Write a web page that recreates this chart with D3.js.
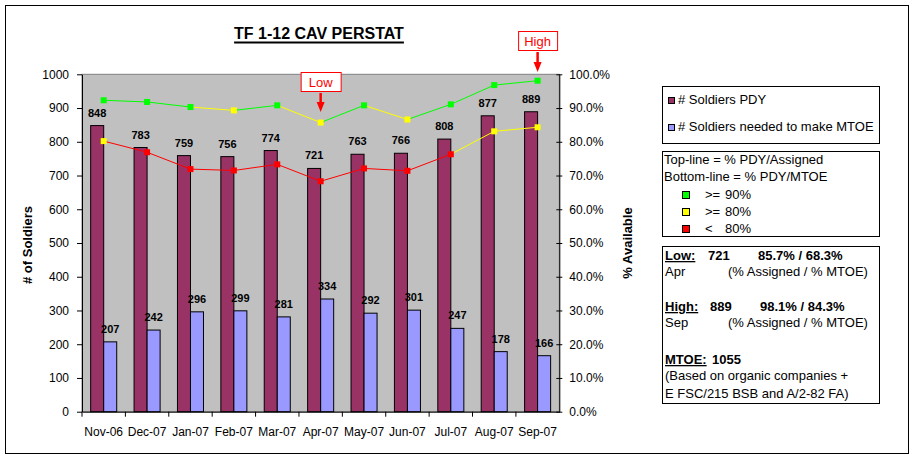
<!DOCTYPE html>
<html lang="en">
<head>
<meta charset="UTF-8">
<title>TF 1-12 CAV PERSTAT</title>
<script src="https://d3js.org/d3.v7.min.js"></script>
<style>
    body { margin: 0; background: #fff; }
    svg { display: block; font-family: Arial, "Liberation Sans", sans-serif; }
    .tick text { font-size: 12px; fill: #000; }
    .barlabel { font-size: 11px; font-weight: bold; text-anchor: middle; }
    .legend { font-size: 13px; }
</style>
</head>
<body>
<svg width="916" height="460"></svg>
<script>
// chart values
const months = ["Nov-06", "Dec-07", "Jan-07", "Feb-07", "Mar-07", "Apr-07", "May-07", "Jun-07", "Jul-07", "Aug-07", "Sep-07"];
const soldiersPdy = [848, 783, 759, 756, 774, 721, 763, 766, 808, 877, 889];
const soldiersNeeded = [207, 242, 296, 299, 281, 334, 292, 301, 247, 178, 166];
const pctAssigned = [92.3, 91.8, 90.3, 89.3, 90.8, 85.7, 90.8, 86.6, 91.1, 96.8, 98.1];   // top line
const pctMtoe = [80.2, 76.9, 71.9, 71.5, 73.3, 68.3, 72.1, 71.4, 76.3, 83.1, 84.3];       // bottom line
const leftTicks = d3.range(0, 1001, 100);
const rightTicks = d3.range(0, 101, 10);
const seriesNames = ["# Soldiers PDY", "# Soldiers needed to make MTOE"];
const bands = [{ label: ">=", value: "90%", min: 90 }, { label: ">=", value: "80%", min: 80 }, { label: "<", value: "80%", min: -Infinity }];

const barColors = ["#993366", "#9999ff"];
const bandColors = ["#00ff00", "#ffff00", "#ff0000"];
const colorFor = v => bandColors[bands.findIndex(b => v >= b.min)];

const svg = d3.select("svg");
const plot = { left: 82, right: 559.3, top: 74.3, bottom: 411.7 };

// outer chart border
svg.append("rect").attr("x", 5.5).attr("y", 5.5).attr("width", 903).attr("height", 448)
    .attr("fill", "#fff").attr("stroke", "#000");

const x = d3.scaleBand().domain(months).range([plot.left, plot.right]).paddingInner(0).paddingOuter(0);
const barW = x.bandwidth() * 0.3;
const y = d3.scaleLinear().domain([0, 1000]).range([plot.bottom, plot.top]);
const yPct = d3.scaleLinear().domain([0, 100]).range([plot.bottom, plot.top]);
const cx = m => x(m) + x.bandwidth() / 2;

// plot area
svg.append("rect").attr("x", plot.left).attr("y", plot.top)
    .attr("width", plot.right - plot.left).attr("height", plot.bottom - plot.top)
    .attr("fill", "#c0c0c0").attr("stroke", "#808080");

// bars
const barSeries = [soldiersPdy, soldiersNeeded];
barSeries.forEach((vals, s) => {
    const g = svg.append("g");
    g.selectAll("rect").data(months).join("rect")
        .attr("x", m => cx(m) - barW + s * barW)
        .attr("y", (m, i) => y(vals[i]))
        .attr("width", barW)
        .attr("height", (m, i) => plot.bottom - y(vals[i]))
        .attr("fill", barColors[s]).attr("stroke", "#000").attr("stroke-width", 1);
    g.selectAll("text").data(months).join("text")
        .attr("class", "barlabel")
        .attr("x", m => cx(m) - barW / 2 + s * barW)
        .attr("y", (m, i) => y(vals[i]) - 9)
        .text((m, i) => vals[i]);
});

// percentage lines: each segment takes the colour of the point it ends on
[pctAssigned, pctMtoe].forEach(vals => {
    const g = svg.append("g");
    g.selectAll("line").data(months.slice(1)).join("line")
        .attr("x1", (m, i) => cx(months[i])).attr("y1", (m, i) => yPct(vals[i]))
        .attr("x2", m => cx(m)).attr("y2", (m, i) => yPct(vals[i + 1]))
        .attr("stroke", (m, i) => colorFor(vals[i + 1])).attr("stroke-width", 1);
    g.selectAll("rect").data(months).join("rect")
        .attr("x", m => cx(m) - 3).attr("y", (m, i) => yPct(vals[i]) - 3)
        .attr("width", 6).attr("height", 6)
        .attr("fill", (m, i) => colorFor(vals[i]));
});

// axes
const gl = svg.append("g").attr("transform", `translate(${plot.left},0)`)
    .call(d3.axisLeft(y).tickValues(leftTicks).tickSize(5).tickPadding(8).tickSizeOuter(0)
        .tickFormat(d3.format("d")));
const gr = svg.append("g").attr("transform", `translate(${plot.right},0)`)
    .call(d3.axisRight(yPct).tickValues(rightTicks).tickSize(3).tickPadding(7).tickSizeOuter(0)
        .tickFormat(d => d.toFixed(1) + "%"));
gr.selectAll(".tick line").attr("x1", -3);
const gb = svg.append("g").attr("transform", `translate(0,${plot.bottom})`)
    .call(d3.axisBottom(x).tickSize(0).tickPadding(16).tickSizeOuter(0));
gb.selectAll(".tick text").attr("dy", "0.71em");
gb.selectAll("line.boundary").data(months).join("line")
    .attr("class", "boundary")
    .attr("x1", m => x(m)).attr("x2", m => x(m)).attr("y1", 0).attr("y2", 5)
    .attr("stroke", "#000");
[gl, gr, gb].forEach(g => {
    g.selectAll(".domain").attr("stroke", "#000");
    g.selectAll(".tick line").attr("stroke", "#000");
    g.attr("font-family", null).attr("font-size", null);
});

// axis titles
svg.append("text").attr("transform", "translate(32,245) rotate(-90)")
    .attr("text-anchor", "middle").attr("font-size", 13).attr("font-weight", "bold")
    .text("# of Soldiers");
svg.append("text").attr("transform", "translate(632,243) rotate(-90)")
    .attr("text-anchor", "middle").attr("font-size", 13).attr("font-weight", "bold")
    .text("% Available");

// title with underline
const title = svg.append("text").attr("x", 319).attr("y", 39)
    .attr("text-anchor", "middle").attr("font-size", 16).attr("font-weight", "bold")
    .text("TF 1-12 CAV PERSTAT");
const tw = title.node().getComputedTextLength();
svg.append("line").attr("x1", 319 - tw / 2).attr("x2", 319 + tw / 2)
    .attr("y1", 42.5).attr("y2", 42.5).attr("stroke", "#000").attr("stroke-width", 2);

// Low / High callouts
function callout(month, label, boxTop, boxW, arrowTip) {
    const mx = cx(month);
    svg.append("rect").attr("x", mx - boxW / 2 + 0.5).attr("y", boxTop + 0.5)
        .attr("width", boxW).attr("height", 19).attr("fill", "#fff").attr("stroke", "#ff0000");
    svg.append("text").attr("x", mx).attr("y", boxTop + 15)
        .attr("text-anchor", "middle").attr("font-size", 13).attr("fill", "#ff0000").text(label);
    svg.append("line").attr("x1", mx).attr("x2", mx).attr("y1", boxTop + 21).attr("y2", arrowTip - 8)
        .attr("stroke", "#ff0000").attr("stroke-width", 2.5);
    svg.append("path")
        .attr("d", `M${mx - 4},${arrowTip - 10}L${mx + 4},${arrowTip - 10}L${mx},${arrowTip}Z`)
        .attr("fill", "#ff0000");
}
const lowIdx = soldiersPdy.indexOf(d3.min(soldiersPdy));
const highIdx = soldiersPdy.indexOf(d3.max(soldiersPdy));
callout(months[lowIdx], "Low", 72, 40, 112);
callout(months[highIdx], "High", 31, 39, 72);

// legend 1: series
const lg1 = svg.append("g").attr("class", "legend");
lg1.append("rect").attr("x", 662.5).attr("y", 86.5).attr("width", 217).attr("height", 57)
    .attr("fill", "#fff").attr("stroke", "#000");
seriesNames.forEach((name, i) => {
    const yy = 104 + i * 27;
    lg1.append("rect").attr("x", 668.5).attr("y", yy - 6.5).attr("width", 6).attr("height", 6)
        .attr("fill", barColors[i]).attr("stroke", "#000");
    lg1.append("text").attr("x", 678).attr("y", yy).text(name);
});

// legend 2: line colour key
const lg2 = svg.append("g").attr("class", "legend");
lg2.append("rect").attr("x", 662.5).attr("y", 151.5).attr("width", 217).attr("height", 85)
    .attr("fill", "#fff").attr("stroke", "#000");
lg2.append("text").attr("x", 664).attr("y", 164).text("Top-line = % PDY/Assigned");
lg2.append("text").attr("x", 664).attr("y", 181).text("Bottom-line = % PDY/MTOE");
bands.forEach((b, i) => {
    const yy = 199 + i * 17;
    lg2.append("rect").attr("x", 682.5).attr("y", yy - 7.5).attr("width", 7).attr("height", 7)
        .attr("fill", bandColors[i]).attr("stroke", "#000");
    lg2.append("text").attr("x", 705).attr("y", yy).text(b.label);
    lg2.append("text").attr("x", 725).attr("y", yy).text(b.value);
});

// legend 3: low / high / MTOE notes
const lg3 = svg.append("g").attr("class", "legend");
lg3.append("rect").attr("x", 662.5).attr("y", 246.5).attr("width", 217).attr("height", 157)
    .attr("fill", "#fff").attr("stroke", "#000");
const note = (xx, yy, t, bold, underline) => lg3.append("text").attr("x", xx).attr("y", yy)
    .attr("font-weight", bold ? "bold" : null)
    .attr("text-decoration", underline ? "underline" : null).text(t);
note(665, 260, "Low:", true, true);
note(708, 260, soldiersPdy[lowIdx], true);
note(758, 260, `${pctAssigned[lowIdx].toFixed(1)}% / ${pctMtoe[lowIdx].toFixed(1)}%`, true);
note(665, 276, "Apr");
note(728, 276, "(% Assigned / % MTOE)");
note(665, 311, "High:", true, true);
note(710, 311, soldiersPdy[highIdx], true);
note(760, 311, `${pctAssigned[highIdx].toFixed(1)}% / ${pctMtoe[highIdx].toFixed(1)}%`, true);
note(665, 327, "Sep");
note(728, 327, "(% Assigned / % MTOE)");
note(665, 364, "MTOE:", true, true);
note(712, 364, "1055", true);
note(665, 380, "(Based on organic companies +");
note(665, 398, "E FSC/215 BSB and A/2-82 FA)");
</script>
</body>
</html>
